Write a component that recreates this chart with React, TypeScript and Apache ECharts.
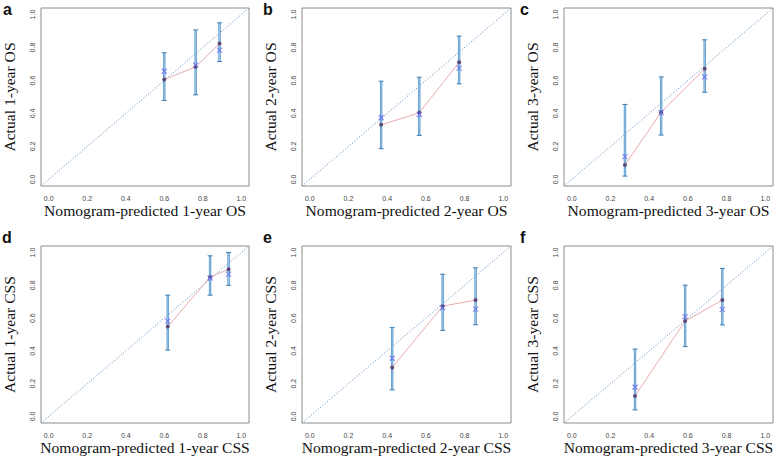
import React, { useEffect, useRef } from "react";
import * as echarts from "echarts";

const panelLetters = ["a", "b", "c", "d", "e", "f"];
const xTitles = [
  "Nomogram-predicted 1-year OS",
  "Nomogram-predicted 2-year OS",
  "Nomogram-predicted 3-year OS",
  "Nomogram-predicted 1-year CSS",
  "Nomogram-predicted 2-year CSS",
  "Nomogram-predicted 3-year CSS",
];
const yTitles = [
  "Actual 1-year OS",
  "Actual 2-year OS",
  "Actual 3-year OS",
  "Actual 1-year CSS",
  "Actual 2-year CSS",
  "Actual 3-year CSS",
];
const tickValues = [0, 0.2, 0.4, 0.6, 0.8, 1.0];
const axisMin = -0.04;
const axisMax = 1.04;

// predicted (x), observed (dots), bias-corrected (x markers), CI lower/upper
const predA = [0.6, 0.763, 0.887];
const obsA = [0.606, 0.683, 0.824];
const corrA = [0.656, 0.693, 0.784];
const lowA = [0.479, 0.513, 0.715];
const highA = [0.768, 0.907, 0.95];

const predB = [0.369, 0.566, 0.772];
const obsB = [0.331, 0.404, 0.711];
const corrB = [0.374, 0.394, 0.675];
const lowB = [0.186, 0.267, 0.58];
const highB = [0.596, 0.62, 0.869];

const predC = [0.275, 0.462, 0.687];
const obsC = [0.087, 0.408, 0.671];
const corrC = [0.138, 0.405, 0.622];
const lowC = [0.02, 0.269, 0.529];
const highC = [0.455, 0.622, 0.847];

const predD = [0.618, 0.838, 0.934];
const obsD = [0.548, 0.85, 0.898];
const corrD = [0.582, 0.845, 0.868];
const lowD = [0.405, 0.74, 0.8];
const highD = [0.74, 0.98, 1.0];

const predE = [0.426, 0.687, 0.857];
const obsE = [0.298, 0.673, 0.71];
const corrE = [0.355, 0.663, 0.655];
const lowE = [0.162, 0.525, 0.56];
const highE = [0.542, 0.868, 0.907];

const predF = [0.327, 0.586, 0.778];
const obsF = [0.125, 0.582, 0.71];
const corrF = [0.178, 0.609, 0.653];
const lowF = [0.04, 0.426, 0.558];
const highF = [0.411, 0.801, 0.903];

const panels = [
  { pred: predA, obs: obsA, corr: corrA, low: lowA, high: highA },
  { pred: predB, obs: obsB, corr: corrB, low: lowB, high: highB },
  { pred: predC, obs: obsC, corr: corrC, low: lowC, high: highC },
  { pred: predD, obs: obsD, corr: corrD, low: lowD, high: highD },
  { pred: predE, obs: obsE, corr: corrE, low: lowE, high: highE },
  { pred: predF, obs: obsF, corr: corrF, low: lowF, high: highF },
];

const gridLefts = [40, 302, 564];
const gridTops = [8, 246];
const gridWidth = 209;
const gridHeights = [178, 177];
const letterPos = [
  [3, 9],
  [263, 9],
  [520, 9],
  [2, 237],
  [263, 237],
  [520, 237],
];

function buildOption() {
  const grid: any[] = [];
  const xAxis: any[] = [];
  const yAxis: any[] = [];
  const series: any[] = [];
  const graphic: any[] = [];
  const labelStyle = {
    fontFamily: "Liberation Sans, Arial, sans-serif",
    fontSize: 7,
    color: "#444",
  };
  const titleStyle = {
    fontFamily: "Liberation Serif, Times New Roman, serif",
    fontSize: 15.6,
    color: "#111",
  };
  panels.forEach((p, i) => {
    const col = i % 3;
    const row = Math.floor(i / 3);
    grid.push({
      left: gridLefts[col],
      top: gridTops[row],
      width: gridWidth,
      height: gridHeights[row],
      show: true,
      borderColor: "#8c8c8c",
      borderWidth: 1,
      backgroundColor: "#fff",
    });
    xAxis.push({
      type: "value",
      gridIndex: i,
      min: axisMin,
      max: axisMax,
      axisLine: { show: false },
      axisTick: { show: false },
      splitLine: { show: false },
      axisLabel: {
        ...labelStyle,
        margin: 9,
        customValues: tickValues,
        formatter: (v: number) => v.toFixed(1),
      },
      name: xTitles[i],
      nameLocation: "middle",
      nameGap: 16,
      nameTextStyle: titleStyle,
    });
    yAxis.push({
      type: "value",
      gridIndex: i,
      min: axisMin,
      max: axisMax,
      axisLine: { show: false },
      axisTick: { show: false },
      splitLine: { show: false },
      axisLabel: {
        ...labelStyle,
        margin: 5,
        rotate: 90,
        customValues: tickValues,
        formatter: (v: number) => v.toFixed(1),
      },
      name: yTitles[i],
      nameLocation: "middle",
      nameGap: 24,
      nameTextStyle: titleStyle,
    });
    series.push({
      type: "line",
      xAxisIndex: i,
      yAxisIndex: i,
      data: [
        [axisMin, axisMin],
        [axisMax, axisMax],
      ],
      symbol: "none",
      lineStyle: { color: "#4a80c0", width: 1, type: [1, 2] },
      z: 1,
      silent: true,
    });
    series.push({
      type: "custom",
      xAxisIndex: i,
      yAxisIndex: i,
      data: p.pred.map((x, k) => [x, p.low[k], p.high[k]]),
      encode: { x: 0, y: [1, 2] },
      z: 2,
      renderItem: (params: any, api: any) => {
        const x = api.value(0);
        const lo = api.coord([x, api.value(1)]);
        const hi = api.coord([x, api.value(2)]);
        return {
          type: "group",
          children: [
            {
              type: "line",
              shape: { x1: lo[0], y1: lo[1], x2: hi[0], y2: hi[1] },
              style: { stroke: "#5595ca", lineWidth: 2.4 },
            },
            {
              type: "line",
              shape: { x1: lo[0], y1: lo[1], x2: hi[0], y2: hi[1] },
              style: { stroke: "#9fcbeb", lineWidth: 0.9 },
            },
            {
              type: "line",
              shape: { x1: lo[0] - 2.5, y1: lo[1], x2: lo[0] + 2.5, y2: lo[1] },
              style: { stroke: "#3f7cb0", lineWidth: 1 },
            },
            {
              type: "line",
              shape: { x1: hi[0] - 2.5, y1: hi[1], x2: hi[0] + 2.5, y2: hi[1] },
              style: { stroke: "#3f7cb0", lineWidth: 1 },
            },
          ],
        };
      },
    });
    series.push({
      type: "line",
      xAxisIndex: i,
      yAxisIndex: i,
      data: p.pred.map((x, k) => [x, p.obs[k]]),
      symbol: "circle",
      symbolSize: 4,
      itemStyle: { color: "#5e4a72" },
      lineStyle: { color: "#e6acac", width: 1 },
      z: 3,
    });
    series.push({
      type: "scatter",
      xAxisIndex: i,
      yAxisIndex: i,
      data: p.pred.map((x, k) => [x, p.corr[k]]),
      symbol: "path://M0,0L10,10M10,0L0,10",
      symbolSize: 5,
      itemStyle: { color: "transparent", borderColor: "#6c6cec", borderWidth: 1.2 },
      z: 4,
    });
    graphic.push({
      type: "text",
      left: letterPos[i][0],
      top: letterPos[i][1] - 8,
      style: {
        text: panelLetters[i],
        font: "bold 16px Liberation Sans, Arial, sans-serif",
        fill: "#111",
      },
    });
  });
  return { animation: false, backgroundColor: "#fff", grid, xAxis, yAxis, series, graphic };
}

export default function App() {
  const ref = useRef<HTMLDivElement>(null);
  useEffect(() => {
    if (!ref.current) return;
    const chart = echarts.init(ref.current, undefined, { renderer: "svg" });
    chart.setOption(buildOption() as any);
    return () => chart.dispose();
  }, []);
  return (
    <div
      ref={ref}
      style={{ position: "fixed", left: 0, top: 0, width: 778, height: 458, background: "#fff" }}
    />
  );
}
